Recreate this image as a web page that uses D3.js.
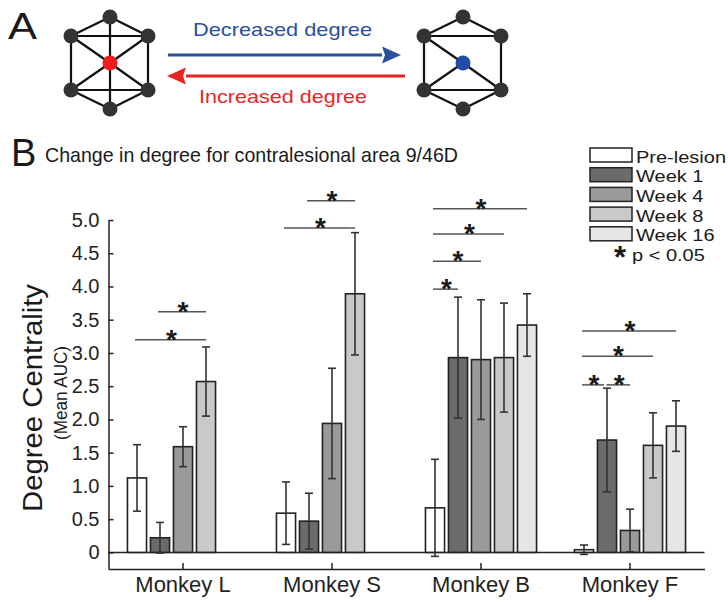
<!DOCTYPE html>
<html lang="en">
<head>
  <meta charset="UTF-8">
  <title>Change in degree for contralesional area 9/46D</title>
  <style>
    body { margin: 0; background: #fff; }
    text { font-family: "Liberation Sans", Arial, sans-serif; fill: #1a1a1a; }
  </style>
</head>
<body>
<div id="chart"></div>
<script src="https://d3js.org/d3.v7.js"></script>
<script type="text/javascript">

  // chart data
  var monkeys = ["Monkey L", "Monkey S", "Monkey B", "Monkey F"];
  var series = ["Pre-lesion", "Week 1", "Week 4", "Week 8", "Week 16"];

  // mean AUC per series, one value per monkey (null = not measured)
  var preLesion = [1.12, 0.59, 0.67, 0.04];
  var week1 = [0.22, 0.47, 2.93, 1.69];
  var week4 = [1.59, 1.94, 2.90, 0.33];
  var week8 = [2.57, 3.89, 2.93, 1.61];
  var week16 = [null, null, 3.42, 1.90];

  // error bar half lengths
  var preLesionErr = [0.50, 0.47, 0.73, 0.07];
  var week1Err = [0.23, 0.42, 0.91, 0.78];
  var week4Err = [0.30, 0.83, 0.90, 0.32];
  var week8Err = [0.52, 0.92, 0.82, 0.49];
  var week16Err = [null, null, 0.47, 0.38];

  // significant pairs (p < 0.05), drawn at sigLevel in degree units
  var sigMonkey = ["Monkey L", "Monkey L", "Monkey S", "Monkey S",
                   "Monkey B", "Monkey B", "Monkey B", "Monkey B",
                   "Monkey F", "Monkey F", "Monkey F", "Monkey F"];
  var sigFrom = ["Pre-lesion", "Week 1", "Pre-lesion", "Week 1",
                 "Pre-lesion", "Pre-lesion", "Pre-lesion", "Pre-lesion",
                 "Pre-lesion", "Week 1", "Pre-lesion", "Pre-lesion"];
  var sigTo = ["Week 8", "Week 8", "Week 8", "Week 8",
               "Week 1", "Week 4", "Week 8", "Week 16",
               "Week 1", "Week 4", "Week 8", "Week 16"];
  var sigLevel = [3.20, 3.62, 4.88, 5.29,
                  3.96, 4.38, 4.79, 5.17,
                  2.52, 2.52, 2.95, 3.33];

  var yTicks = [0, 0.5, 1, 1.5, 2, 2.5, 3, 3.5, 4, 4.5, 5];
  var yTickLabels = ["0", "0.5", "1.0", "1.5", "2.0", "2.5", "3.0", "3.5", "4.0", "4.5", "5.0"];

  var seriesColors = ["#ffffff", "#6b6b6b", "#9a9a9a", "#c9c9c9", "#e6e6e6"];

  var means = [preLesion, week1, week4, week8, week16];
  var errs = [preLesionErr, week1Err, week4Err, week8Err, week16Err];

  var w = 728;
  var h = 602;

  var svg = d3.select("#chart")
          .append("svg")
          .attr("width", w)
          .attr("height", h);

  svg.append("rect")
          .attr("width", w)
          .attr("height", h)
          .attr("fill", "#fff");

  // stretch a text sideways so it keeps the width it would have at a bigger size
  function widen(sel, factor) {
    sel.each(function() {
      var len = this.getComputedTextLength();
      d3.select(this)
              .attr("textLength", len * factor)
              .attr("lengthAdjust", "spacingAndGlyphs");
    });
  }

  // ---------- panel A: network diagram ----------
  var panelA = svg.append("g").attr("id", "panelA");

  panelA.append("text")
          .attr("x", 8).attr("y", 39)
          .attr("font-size", 36)
          .attr("textLength", 29)
          .attr("lengthAdjust", "spacingAndGlyphs")
          .text("A");

  // node layout relative to the hub
  var nodeOffsets = {
    top: [0, -46], ul: [-39, -27], ur: [38, -27],
    ll: [-39, 27], lr: [38, 27], bot: [0, 46], hub: [0, 0]
  };
  var ringEdges = [["top", "ul"], ["top", "ur"], ["ul", "ur"], ["ul", "ll"], ["ur", "lr"],
                   ["ll", "lr"], ["ll", "bot"], ["lr", "bot"]];
  var highEdges = ringEdges.concat([["hub", "top"], ["hub", "bot"], ["hub", "ul"],
                                    ["hub", "ur"], ["hub", "ll"], ["hub", "lr"]]);
  var lowEdges = ringEdges.concat([["hub", "ul"], ["hub", "ll"], ["hub", "lr"]]);

  function drawGraph(cx, cy, edges, hubColor) {
    var g = panelA.append("g").attr("transform", `translate(${cx}, ${cy})`);
    g.selectAll("line")
            .data(edges)
            .enter()
            .append("line")
            .attr("x1", d => nodeOffsets[d[0]][0])
            .attr("y1", d => nodeOffsets[d[0]][1])
            .attr("x2", d => nodeOffsets[d[1]][0])
            .attr("y2", d => nodeOffsets[d[1]][1])
            .attr("stroke", "#111")
            .attr("stroke-width", 2.2);
    g.selectAll("circle")
            .data(Object.keys(nodeOffsets))
            .enter()
            .append("circle")
            .attr("cx", d => nodeOffsets[d][0])
            .attr("cy", d => nodeOffsets[d][1])
            .attr("r", 7.5)
            .attr("fill", d => d === "hub" ? hubColor : "#333");
  }
  drawGraph(110, 63, highEdges, "#ee1c1c");
  drawGraph(463, 63, lowEdges, "#1f4ea8");

  function drawArrow(x1, x2, y, color) {
    var dir = x2 > x1 ? 1 : -1;
    var headLen = 19;
    panelA.append("line")
            .attr("x1", x1).attr("y1", y)
            .attr("x2", x2 - dir * headLen).attr("y2", y)
            .attr("stroke", color)
            .attr("stroke-width", 3);
    panelA.append("path")
            .attr("d", `M${x2},${y} L${x2 - dir * headLen},${y - 8.5} L${x2 - dir * (headLen - 3)},${y} L${x2 - dir * headLen},${y + 8.5} Z`)
            .attr("fill", color);
  }
  drawArrow(168, 401, 55, "#2a4f9e");
  drawArrow(405, 167, 76, "#e82525");

  panelA.append("text")
          .attr("x", 193).attr("y", 36)
          .attr("font-size", 19)
          .attr("textLength", 179)
          .attr("lengthAdjust", "spacingAndGlyphs")
          .style("fill", "#2a4f9e")
          .text("Decreased degree");

  panelA.append("text")
          .attr("x", 199).attr("y", 103)
          .attr("font-size", 19)
          .attr("textLength", 168)
          .attr("lengthAdjust", "spacingAndGlyphs")
          .style("fill", "#e82525")
          .text("Increased degree");

  // ---------- panel B: bar chart ----------
  svg.append("text")
          .attr("x", 11).attr("y", 166)
          .attr("font-size", 38)
          .text("B");

  svg.append("text")
          .attr("x", 45).attr("y", 162)
          .attr("font-size", 21)
          .attr("textLength", 413)
          .attr("lengthAdjust", "spacingAndGlyphs")
          .text("Change in degree for contralesional area 9/46D");

  var plot = svg.append("g").attr("id", "plot");

  var yScale = d3.scaleLinear()
          .domain([-0.25, 5])
          .range([569, 220]);

  var xScale = d3.scaleBand()
          .domain(monkeys)
          .range([108.5, 704.5]);

  var inner = d3.scaleBand()
          .domain(series)
          .range([-57.5, 57.5])
          .paddingInner(0.17)
          .paddingOuter(0.085);

  function barCenter(m, s) {
    return xScale(m) + xScale.bandwidth() / 2 + inner(s) + inner.bandwidth() / 2;
  }

  // flatten to bar records
  var bars = [];
  series.forEach(function(s, si) {
    monkeys.forEach(function(m, mi) {
      if (means[si][mi] !== null) {
        bars.push({monkey: m, series: s, si: si, value: means[si][mi], err: errs[si][mi]});
      }
    });
  });

  // zero line
  plot.append("line")
          .attr("x1", xScale.range()[0]).attr("x2", xScale.range()[1])
          .attr("y1", yScale(0)).attr("y2", yScale(0))
          .attr("stroke", "#222")
          .attr("stroke-width", 1.5);

  plot.selectAll("rect.bar")
          .data(bars)
          .enter()
          .append("rect")
          .attr("class", "bar")
          .attr("x", d => xScale(d.monkey) + xScale.bandwidth() / 2 + inner(d.series))
          .attr("y", d => yScale(d.value))
          .attr("width", inner.bandwidth())
          .attr("height", d => yScale(0) - yScale(d.value))
          .attr("fill", d => seriesColors[d.si])
          .attr("stroke", "#222")
          .attr("stroke-width", 1.6);

  // error bars
  var eb = plot.selectAll("g.err")
          .data(bars)
          .enter()
          .append("g")
          .attr("class", "err")
          .attr("stroke", "#333")
          .attr("stroke-width", 1.6);
  eb.append("line")
          .attr("x1", d => barCenter(d.monkey, d.series))
          .attr("x2", d => barCenter(d.monkey, d.series))
          .attr("y1", d => yScale(d.value + d.err))
          .attr("y2", d => yScale(d.value - d.err));
  eb.append("line")
          .attr("x1", d => barCenter(d.monkey, d.series) - 4)
          .attr("x2", d => barCenter(d.monkey, d.series) + 4)
          .attr("y1", d => yScale(d.value + d.err))
          .attr("y2", d => yScale(d.value + d.err));
  eb.append("line")
          .attr("x1", d => barCenter(d.monkey, d.series) - 4)
          .attr("x2", d => barCenter(d.monkey, d.series) + 4)
          .attr("y1", d => yScale(d.value - d.err))
          .attr("y2", d => yScale(d.value - d.err));

  // significance lines
  var sig = sigMonkey.map(function(m, i) {
    return {monkey: m, from: sigFrom[i], to: sigTo[i], level: sigLevel[i]};
  });
  sig.forEach(function(d) {
    d.x1 = barCenter(d.monkey, d.from);
    d.x2 = barCenter(d.monkey, d.to);
    // leave a small gap where two lines meet at the same height
    sig.forEach(function(o) {
      if (o !== d && o.monkey === d.monkey && o.level === d.level) {
        if (o.to === d.from) d.x1 += 1.5;
        if (o.from === d.to) d.x2 -= 3;
      }
    });
  });
  plot.selectAll("line.sig")
          .data(sig)
          .enter()
          .append("line")
          .attr("class", "sig")
          .attr("x1", d => d.x1 - 2)
          .attr("x2", d => d.x2)
          .attr("y1", d => yScale(d.level))
          .attr("y2", d => yScale(d.level))
          .attr("stroke", "#555")
          .attr("stroke-width", 1.5);
  plot.selectAll("text.star")
          .data(sig)
          .enter()
          .append("text")
          .attr("class", "star")
          .attr("x", d => (d.x1 + d.x2) / 2)
          .attr("y", d => yScale(d.level) + 9)
          .attr("text-anchor", "middle")
          .attr("font-size", 28)
          .attr("font-weight", "bold")
          .text("*");

  // y axis
  var yAxis = d3.axisLeft(yScale)
          .tickValues(yTicks)
          .tickFormat((d, i) => yTickLabels[i])
          .tickSizeInner(-5)
          .tickSizeOuter(0)
          .tickPadding(9);
  var ya = plot.append("g")
          .attr("transform", "translate(108.5, 0)")
          .call(yAxis);
  ya.select(".domain").attr("stroke", "#222").attr("stroke-width", 1.5);
  ya.selectAll(".tick line").attr("stroke", "#222").attr("stroke-width", 1.5);
  ya.selectAll(".tick text")
          .attr("font-size", 20)
          .attr("font-family", "Liberation Sans, Arial, sans-serif")
          .style("fill", "#222");

  // x axis
  var xAxis = d3.axisBottom(xScale)
          .tickSizeInner(-6)
          .tickSizeOuter(0)
          .tickPadding(7.5);
  var xa = plot.append("g")
          .attr("transform", "translate(0, 569)")
          .call(xAxis);
  xa.select(".domain").attr("stroke", "#222").attr("stroke-width", 1.5);
  xa.selectAll(".tick line").attr("stroke", "#222").attr("stroke-width", 1.5);
  xa.selectAll(".tick text")
          .attr("font-size", 22)
          .attr("font-family", "Liberation Sans, Arial, sans-serif")
          .style("fill", "#222");

  // y axis labels
  svg.append("text")
          .attr("transform", "translate(42, 398) rotate(-90)")
          .attr("text-anchor", "middle")
          .attr("font-size", 27)
          .attr("textLength", 228)
          .attr("lengthAdjust", "spacingAndGlyphs")
          .text("Degree Centrality");
  svg.append("text")
          .attr("transform", "translate(67, 393) rotate(-90)")
          .attr("text-anchor", "middle")
          .attr("font-size", 18)
          .attr("textLength", 94)
          .attr("lengthAdjust", "spacingAndGlyphs")
          .text("(Mean AUC)");

  // legend
  var legend = svg.append("g").attr("id", "legend");
  var rows = legend.selectAll("g.row")
          .data(series)
          .enter()
          .append("g")
          .attr("class", "row")
          .attr("transform", (d, i) => `translate(590, ${148 + i * 19.7})`);
  rows.append("rect")
          .attr("width", 42)
          .attr("height", 14)
          .attr("fill", (d, i) => seriesColors[i])
          .attr("stroke", "#222")
          .attr("stroke-width", 1.5);
  var rowText = rows.append("text")
          .attr("x", 46)
          .attr("y", 14.5)
          .attr("font-size", 17)
          .text(d => d);
  widen(rowText, 20 / 17);

  legend.append("text")
          .attr("x", 620)
          .attr("y", 148 + 5 * 19.7 + 21)
          .attr("text-anchor", "middle")
          .attr("font-size", 31)
          .attr("font-weight", "bold")
          .text("*");
  var pText = legend.append("text")
          .attr("x", 632)
          .attr("y", 148 + 5 * 19.7 + 14)
          .attr("font-size", 17)
          .text("p < 0.05");
  widen(pText, 20 / 17);

</script>
</body>
</html>
